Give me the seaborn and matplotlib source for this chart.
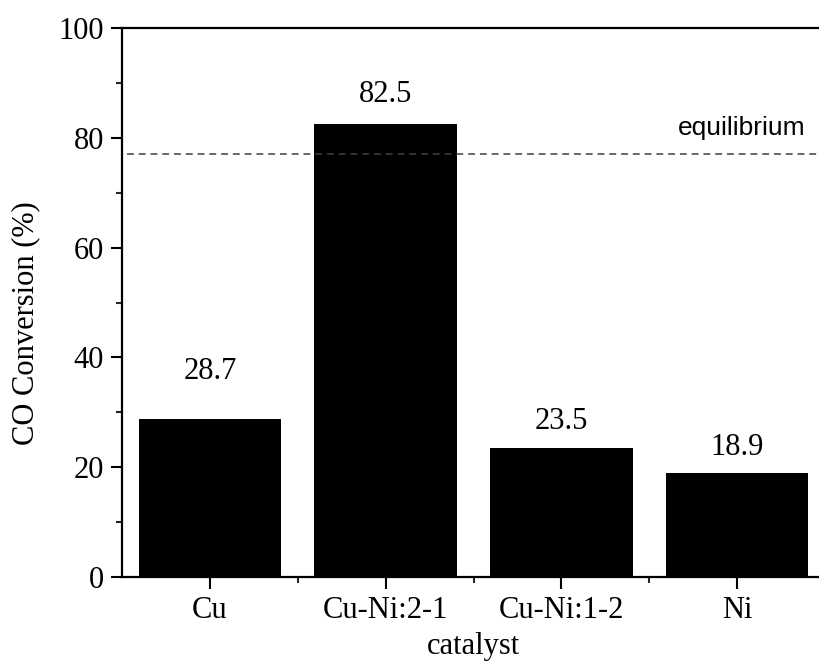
import matplotlib
matplotlib.use("Agg")
import matplotlib.pyplot as plt
import seaborn as sns
import pandas as pd
from matplotlib.ticker import MultipleLocator, FixedLocator

# Data
catalysts = ["Cu", "Cu-Ni:2-1", "Cu-Ni:1-2", "Ni"]
conversion = [28.7, 82.5, 23.5, 18.9]
value_labels = ["28.7", "82.5", "23.5", "18.9"]
equilibrium_value = 77.0

# layout for the value labels (heights where the text sits)
label_heights = [37.4, 87.8, 28.3, 23.5]

sns.set_theme(style="ticks")
plt.rcParams["font.family"] = ["Liberation Serif", "DejaVu Serif"]

df = pd.DataFrame({"catalyst": catalysts, "conversion": conversion})

fig = plt.figure(figsize=(8.19, 6.66), dpi=100)
ax = fig.add_axes([122 / 819, 89 / 666, 703 / 819, 549 / 666])

sns.barplot(data=df, x="catalyst", y="conversion", color="black",
            width=0.81, edgecolor="none", linewidth=0, saturation=1, ax=ax)

ax.set_xlim(-0.5, 3.5)
ax.set_ylim(0, 100)

# spines
ax.spines["right"].set_visible(False)
for s in ["left", "bottom", "top"]:
    ax.spines[s].set_linewidth(1.6)
    ax.spines[s].set_color("black")

FS = 22

# ticks
ax.yaxis.set_major_locator(MultipleLocator(20))
ax.yaxis.set_minor_locator(MultipleLocator(10))
ax.xaxis.set_minor_locator(FixedLocator([0.5, 1.5, 2.5]))
ax.tick_params(axis="y", which="major", direction="out", length=8, width=1.5,
               labelsize=FS, pad=5, colors="black")
ax.tick_params(axis="y", which="minor", direction="out", length=4, width=1.5)
ax.tick_params(axis="x", which="major", direction="out", length=8.5, width=1.5,
               labelsize=FS, pad=5, colors="black")
ax.tick_params(axis="x", which="minor", direction="out", length=4, width=1.5)
ax.tick_params(top=False, right=False)

ax.set_xlabel("catalyst", fontsize=FS, labelpad=5.5, color="black")
ax.set_ylabel("CO Conversion (%)", fontsize=FS, color="black")
ax.yaxis.set_label_coords(-0.116, 0.463)

# equilibrium line
ax.axhline(equilibrium_value, xmin=0.007, xmax=1, color="#404040",
           linestyle=(0, (4.5, 3.2)), linewidth=1.1)
ax.text(3.39, 81.8, "equilibrium", ha="right", va="center", fontsize=19,
        family=["Liberation Sans", "DejaVu Sans"], color="black")

# value labels
for i, (txt, h) in enumerate(zip(value_labels, label_heights)):
    ax.text(i, h, txt, ha="center", va="center", fontsize=FS, color="black")

fig.savefig("out.png", dpi=100)
